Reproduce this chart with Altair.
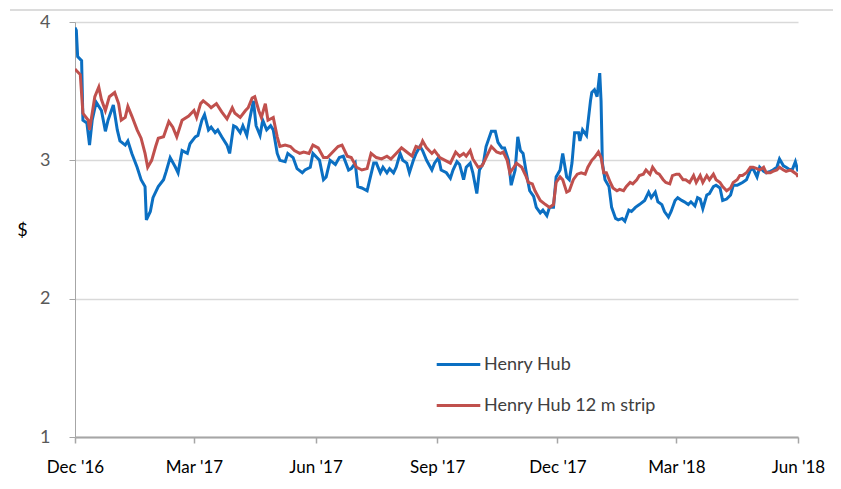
import altair as alt
import pandas as pd

# Henry Hub spot ($/MMBtu) – day offset from 1 Dec 2016, value
hh_days = [0, 1, 2, 5, 6, 9, 11, 13, 16, 20, 23, 25, 29, 32, 34, 38, 40, 43, 47, 50, 53, 54, 57, 59,
           63, 67, 69, 72, 76, 78, 81, 85, 87, 91, 93, 96, 98, 101, 103, 106, 108, 111, 115, 117,
           120, 122, 125, 127, 130, 132, 135, 137, 140, 142, 145, 148, 150, 153, 155, 159, 161, 165,
           168, 172, 174, 178, 180, 183, 185, 188, 190, 193, 197, 200, 203, 207, 209, 212, 214, 217,
           221, 223, 226, 228, 231, 233, 236, 238, 241, 243, 246, 248, 251, 253, 256, 258, 261, 263,
           266, 270, 272, 275, 277, 281, 284, 286, 289, 291, 294, 296, 299, 301, 304, 306, 309, 311,
           315, 318, 320, 323, 325, 328, 330, 333, 335, 337, 339, 342, 344, 347, 349, 352, 354, 357,
           359, 362, 364, 367, 369, 372, 374, 376, 378, 381, 382, 384, 387, 390, 391, 393, 395, 397,
           398, 399, 401, 404, 406, 409, 411, 414, 416, 419, 421, 424, 427, 431, 434, 436, 439, 441,
           444, 446, 449, 451, 454, 456, 459, 461, 464, 466, 469, 471, 473, 475, 478, 480, 483, 485,
           488, 490, 493, 496, 498, 501, 503, 505, 508, 511, 513, 516, 518, 521, 523, 526, 528, 531,
           533, 536, 538, 541, 543, 545, 547]
hh_vals = [3.96, 3.94, 3.75, 3.72, 3.29, 3.27, 3.11, 3.29, 3.42, 3.36, 3.21, 3.29, 3.40, 3.22, 3.14,
           3.11, 3.14, 3.05, 2.95, 2.86, 2.81, 2.57, 2.63, 2.73, 2.81, 2.86, 2.92, 3.02, 2.95, 2.91,
           3.07, 3.05, 3.12, 3.17, 3.18, 3.29, 3.33, 3.22, 3.24, 3.20, 3.22, 3.17, 3.11, 3.05, 3.25,
           3.24, 3.20, 3.25, 3.18, 3.29, 3.43, 3.25, 3.18, 3.29, 3.22, 3.25, 3.22, 3.05, 3.00, 2.99,
           3.05, 3.02, 2.94, 2.91, 2.93, 2.95, 3.05, 3.02, 3.00, 2.86, 2.88, 3.00, 2.97, 3.02, 3.03,
           2.93, 2.94, 2.98, 2.81, 2.80, 2.78, 2.86, 2.98, 2.98, 2.91, 2.95, 2.91, 2.94, 2.91, 2.95,
           3.05, 3.00, 2.98, 2.91, 3.00, 3.05, 3.10, 3.07, 3.00, 2.93, 2.98, 3.02, 2.93, 2.91, 2.87,
           2.93, 2.99, 2.97, 2.86, 2.95, 2.98, 2.91, 2.76, 2.93, 2.98, 3.10, 3.21, 3.21, 3.13, 3.09,
           3.09, 3.00, 2.82, 2.93, 3.17, 3.07, 3.05, 2.88, 2.78, 2.74, 2.66, 2.62, 2.64, 2.60, 2.66,
           2.66, 2.88, 2.93, 3.05, 2.88, 2.86, 2.98, 3.20, 3.20, 3.14, 3.22, 3.18, 3.43, 3.49, 3.51,
           3.46, 3.63, 3.43, 2.98, 2.86, 2.81, 2.66, 2.58, 2.57, 2.58, 2.56, 2.64, 2.63, 2.66, 2.68,
           2.71, 2.77, 2.73, 2.77, 2.70, 2.68, 2.63, 2.59, 2.63, 2.71, 2.73, 2.71, 2.70, 2.68, 2.70,
           2.67, 2.73, 2.72, 2.65, 2.75, 2.76, 2.81, 2.82, 2.80, 2.71, 2.72, 2.75, 2.82, 2.82, 2.83,
           2.84, 2.86, 2.93, 2.94, 2.88, 2.95, 2.92, 2.91, 2.92, 2.93, 2.95, 3.01, 2.96, 2.95, 2.93,
           2.94, 2.99, 2.92]

# Henry Hub 12 m strip
st_days = [0, 1, 4, 6, 10, 11, 15, 18, 20, 23, 26, 30, 33, 35, 38, 40, 43, 47, 50, 53, 55, 58, 61,
           63, 67, 71, 74, 77, 81, 86, 90, 92, 95, 97, 101, 103, 107, 111, 115, 119, 121, 125, 129,
           131, 134, 136, 139, 141, 144, 146, 150, 153, 155, 159, 163, 166, 170, 173, 177, 180, 184,
           188, 191, 195, 199, 202, 206, 209, 213, 217, 221, 224, 228, 232, 236, 239, 243, 247, 251,
           255, 258, 261, 263, 266, 270, 272, 276, 280, 284, 288, 291, 294, 296, 299, 301, 305, 308,
           311, 315, 319, 322, 324, 327, 329, 332, 334, 338, 341, 343, 346, 348, 352, 356, 359, 362,
           364, 367, 369, 372, 374, 377, 380, 383, 386, 388, 391, 393, 396, 398, 400, 402, 405, 407,
           410, 412, 415, 417, 420, 422, 425, 427, 430, 432, 435, 437, 440, 442, 445, 447, 450, 452,
           455, 457, 460, 462, 465, 468, 470, 473, 475, 478, 480, 483, 485, 488, 490, 493, 496, 498,
           501, 503, 505, 508, 511, 513, 516, 518, 521, 523, 526, 528, 531, 533, 536, 538, 541, 543,
           546, 547]
st_vals = [3.66, 3.65, 3.62, 3.34, 3.29, 3.22, 3.46, 3.53, 3.44, 3.36, 3.46, 3.49, 3.41, 3.29, 3.31,
           3.39, 3.32, 3.22, 3.16, 3.05, 2.95, 3.00, 3.10, 3.16, 3.17, 3.28, 3.24, 3.17, 3.29, 3.32,
           3.36, 3.31, 3.41, 3.43, 3.40, 3.38, 3.41, 3.35, 3.30, 3.38, 3.34, 3.31, 3.36, 3.38, 3.45,
           3.46, 3.36, 3.31, 3.41, 3.29, 3.31, 3.17, 3.10, 3.11, 3.10, 3.07, 3.05, 3.06, 3.05, 3.11,
           3.09, 3.02, 3.02, 3.06, 3.10, 3.11, 3.03, 3.02, 2.95, 2.93, 2.94, 3.05, 3.02, 3.01, 3.03,
           3.01, 3.05, 3.09, 3.06, 3.03, 3.10, 3.09, 3.14, 3.09, 3.05, 3.07, 3.02, 3.00, 2.98, 3.06,
           3.03, 3.05, 3.03, 3.07, 3.01, 2.95, 2.96, 3.02, 3.10, 3.06, 3.05, 3.06, 3.00, 2.91, 2.95,
           2.98, 2.95, 2.89, 2.84, 2.83, 2.78, 2.71, 2.68, 2.66, 2.68, 2.84, 2.88, 2.86, 2.77, 2.78,
           2.86, 2.90, 2.91, 2.90, 2.95, 3.00, 3.02, 3.06, 3.02, 2.91, 2.91, 2.84, 2.80, 2.78, 2.79,
           2.78, 2.81, 2.84, 2.83, 2.86, 2.89, 2.90, 2.93, 2.90, 2.95, 2.91, 2.90, 2.86, 2.84, 2.83,
           2.89, 2.90, 2.90, 2.86, 2.86, 2.84, 2.89, 2.84, 2.89, 2.84, 2.89, 2.86, 2.90, 2.86, 2.84,
           2.81, 2.78, 2.80, 2.84, 2.86, 2.89, 2.89, 2.91, 2.95, 2.95, 2.94, 2.93, 2.95, 2.91, 2.91,
           2.92, 2.93, 2.95, 2.93, 2.92, 2.93, 2.92, 2.90, 2.88]

series_names = ["Henry Hub", "Henry Hub 12 m strip"]
series_colors = ["#0b6fc2", "#c0504d"]
tick_dates = ["2016-12-01", "2017-03-01", "2017-06-01", "2017-09-01",
              "2017-12-01", "2018-03-01", "2018-06-01"]
y_ticks = [1, 2, 3, 4]

start = pd.Timestamp("2016-12-01")
df = pd.concat([
    pd.DataFrame({"date": [start + pd.Timedelta(days=d) for d in hh_days],
                  "value": hh_vals, "series": series_names[0], "order": 0}),
    pd.DataFrame({"date": [start + pd.Timedelta(days=d) for d in st_days],
                  "value": st_vals, "series": series_names[1], "order": 1}),
])
df["date"] = df["date"].dt.strftime("%Y-%m-%dT%H:%M:%S")


def dt(s):
    y, m, d = (int(p) for p in s.split("-"))
    return alt.DateTime(year=y, month=m, date=d)


FONT = "Lato"

lines = alt.Chart(df).mark_line(strokeWidth=3, clip=True).encode(
    x=alt.X("date:T",
            scale=alt.Scale(domain=[dt(tick_dates[0]), dt(tick_dates[-1])]),
            axis=alt.Axis(values=[dt(t) for t in tick_dates], format="%b '%y",
                          title=None, grid=False, labelFontSize=17, labelColor="#000000",
                          labelFont=FONT, tickSize=6, tickColor="#a6a6a6", tickWidth=1.5,
                          domainColor="#a6a6a6", domainWidth=2, labelPadding=16,
                          labelFlush=False)),
    y=alt.Y("value:Q",
            scale=alt.Scale(domain=[1, 4], nice=False, zero=False),
            axis=alt.Axis(values=y_ticks, format="d", title="$", titleAngle=0,
                          titleX=-53, titleY=208, titleFontSize=18, titleFontWeight="normal",
                          titleColor="#000000", titleFont=FONT, titleAlign="center",
                          titleBaseline="middle",
                          labelFontSize=18, labelColor="#595959", labelFont=FONT,
                          tickSize=6, tickColor="#a6a6a6", domainColor="#a6a6a6",
                          labelPadding=19, gridColor="#d9d9d9", gridWidth=1.5)),
    color=alt.Color("series:N",
                    scale=alt.Scale(domain=series_names, range=series_colors),
                    legend=alt.Legend(title=None, orient="none", legendX=360, legendY=319,
                                      symbolType="stroke", symbolSize=1900,
                                      symbolStrokeWidth=3, labelFontSize=18,
                                      labelColor="#404040", labelFont=FONT,
                                      labelOffset=2, labelLimit=500)),
    order=alt.Order("order:Q"),
)

top_rule = alt.Chart(df).mark_rule(color="#dcdcdc", strokeWidth=2).encode(
    x=alt.value(-65), x2=alt.value(760), y=alt.value(-12))

chart = alt.layer(top_rule, lines).properties(
    width=723, height=415,
    autosize=alt.AutoSizeParams(type="none"),
    padding={"left": 67, "top": 14, "right": 35, "bottom": 44},
).configure_view(stroke=None).configure_legend(rowPadding=8)

chart.save("out.html", embed_options={"renderer": "svg", "actions": False})
